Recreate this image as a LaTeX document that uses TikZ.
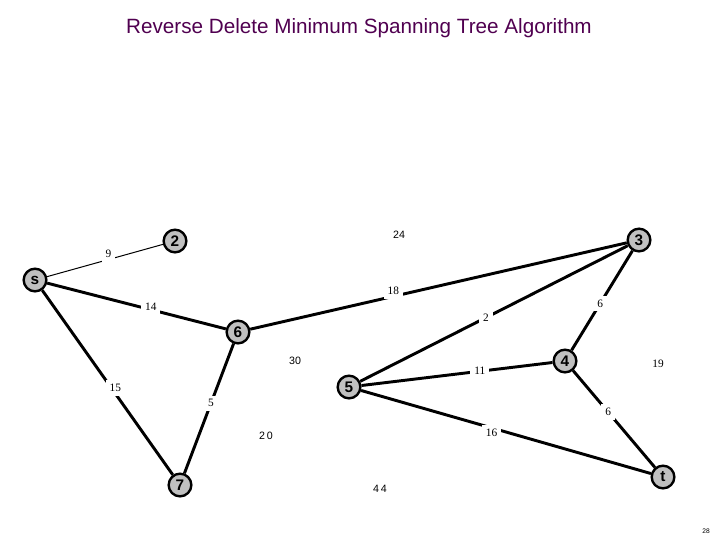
\documentclass[tikz,border=0pt]{standalone}
\usepackage{fontspec}
\setmainfont{Liberation Serif}
\setsansfont{Liberation Sans}
\usepackage{tikz}

\definecolor{titlepurple}{RGB}{80,0,80}
\definecolor{vtxgray}{RGB}{192,192,192}

\tikzset{
  vtx/.style={circle, draw=black, line width=1.8pt, fill=vtxgray, minimum size=17pt, inner sep=0pt,
    font=\sffamily\bfseries\fontsize{11.5}{11.5}\selectfont},
  edge/.style={line width=2.2pt},
  thinedge/.style={line width=0.75pt},
  wt/.style={fill=white, inner sep=3pt, font=\rmfamily\fontsize{8.5}{8.5}\selectfont},
  wtsans/.style={inner sep=0.75pt, font=\sffamily\fontsize{8}{8}\selectfont},
}

\begin{document}
\begin{tikzpicture}[x=0.75pt,y=0.75pt,yscale=-1,xscale=1]
\useasboundingbox (0,0) rectangle (720,540);

% Title
\node (title) at (359,28) {\sffamily\fontsize{15.5}{15.5}\selectfont\color{titlepurple}Reverse Delete Minimum Spanning Tree Algorithm};

% Vertices
\node [vtx] (s) at (35,280) {s};
\node [vtx] (2) at (175,241) {2};
\node [vtx] (3) at (639,240) {3};
\node [vtx] (6) at (238,332) {6};
\node [vtx] (4) at (565,361) {4};
\node [vtx] (5) at (349,387) {5};
\node [vtx] (7) at (180,485) {7};
\node [vtx] (t) at (663,477) {t};

% Edges still in the graph
\draw [thinedge] (s) -- node [wt, pos=0.53, yshift=4pt] {9} (2);
\draw [edge] (s) -- node [wt, pos=0.58, yshift=2pt] {14} (6);
\draw [edge] (6) -- node [wt, pos=0.38, yshift=4pt] {18} (3);
\draw [edge] (5) -- node [wt, pos=0.47] {2} (3);
\draw [edge] (3) -- node [wt, pos=0.53] {6} (4);
\draw [edge] (5) -- node [wt, pos=0.62] {11} (4);
\draw [edge] (4) -- node [wt, pos=0.43] {6} (t);
\draw [edge] (5) -- node [wt, pos=0.45, yshift=-4pt] {16} (t);
\draw [edge] (s) -- node [wt, pos=0.56, yshift=4pt] {15} (7);
\draw [edge] (6) -- node [wt, pos=0.46] {5} (7);

% Text Node
\node [wtsans] (w24) at (399,235) {24};
% Text Node
\node [wtsans] (w30) at (295,361) {30};
% Text Node
\node [wtsans] (w20) at (266,436) {2\,0};
% Text Node
\node [wtsans] (w44) at (380,489) {4\,4};
% Text Node
\node [wt, fill=none, inner sep=0.75pt] (w19) at (658,364) {19};

% Text Node
\node [inner sep=0pt, font=\sffamily\fontsize{5}{5}\selectfont] (page) at (706,531) {28};

\end{tikzpicture}
\end{document}
